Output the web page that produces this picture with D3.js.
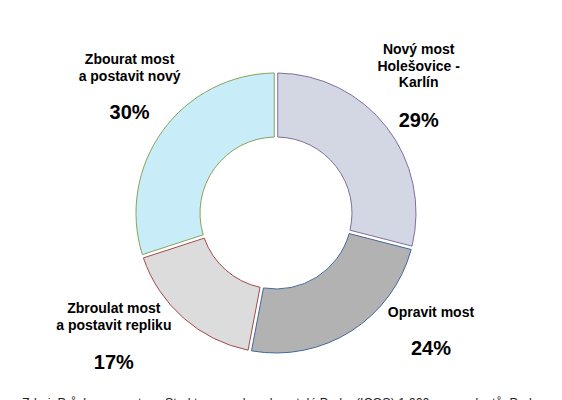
<!DOCTYPE html>
<html>
<head>
<meta charset="utf-8">
<script src="https://cdn.jsdelivr.net/npm/d3@7"></script>
<style>
  html, body { margin: 0; padding: 0; background: #fff; overflow: hidden; }
  svg { display: block; font-family: "Liberation Sans", Arial, sans-serif; }
</style>
</head>
<body>
<svg id="chart" width="562" height="400"></svg>
<script>
// data, clockwise from 12 o'clock
const categories = [
  ['Nový most', 'Holešovice -', 'Karlín'],
  ['Opravit most'],
  ['Zbroulat most', 'a postavit repliku'],
  ['Zbourat most', 'a postavit nový']
];
const values = [29, 24, 17, 30];
const fills = ['#d3d7e4', '#b2b2b2', '#dcdcdc', '#c9ecf9'];
const strokes = ['#7f6f9e', '#44679c', '#a24a4a', '#87a35a'];

// label block placement: angle (deg from top) and distance from centre
const labelAngle = [48, 127, 233, 311];
const labelDist = [192, 194, 203, 194];
const pctGap = [40, 38, 39, 38];

const width = 562, height = 400;
const cx = 276, cy = 213;
const outerR = 140, innerR = 76;

const svg = d3.select('#chart');
const g = svg.append('g').attr('transform', `translate(${cx},${cy})`);

const pie = d3.pie().sort(null).value(d => d);
const arcs = pie(values);

const arc = d3.arc()
  .innerRadius(innerR)
  .outerRadius(outerR)
  .padAngle(3.5 / outerR)
  .padRadius(outerR);

g.selectAll('path')
  .data(arcs)
  .join('path')
  .attr('d', arc)
  .attr('fill', (d, i) => fills[i])
  .attr('stroke', (d, i) => strokes[i])
  .attr('stroke-width', 1);

// labels
const lineH = 16.5;
const labels = svg.append('g');
arcs.forEach((d, i) => {
  const a = labelAngle[i] * Math.PI / 180;
  const lines = categories[i];
  const blockH = (lines.length - 1) * lineH + pctGap[i];
  const x = cx + Math.sin(a) * labelDist[i];
  const y = cy - Math.cos(a) * labelDist[i] - blockH / 2 + 6;

  const t = labels.append('text')
    .attr('text-anchor', 'middle')
    .attr('font-weight', 'bold')
    .attr('font-size', 14)
    .attr('fill', '#000');
  lines.forEach((l, j) => {
    t.append('tspan').attr('x', x).attr('y', y + j * lineH).text(l);
  });

  labels.append('text')
    .attr('x', x)
    .attr('y', y + (lines.length - 1) * lineH + pctGap[i])
    .attr('text-anchor', 'middle')
    .attr('font-weight', 'bold')
    .attr('font-size', 20)
    .attr('fill', '#000')
    .text(d3.format('.0f')(d.data) + '%');
});

// source line, cut by the bottom edge as in the original
svg.append('text')
  .attr('x', 22)
  .attr('y', 407)
  .attr('font-size', 12.5)
  .attr('fill', '#222')
  .text('Zdroj: Průzkum agentury, Struktura vzorku: obyvatelé Prahy (ICOS) 1 000 respondentů, Praha');
</script>
</body>
</html>
